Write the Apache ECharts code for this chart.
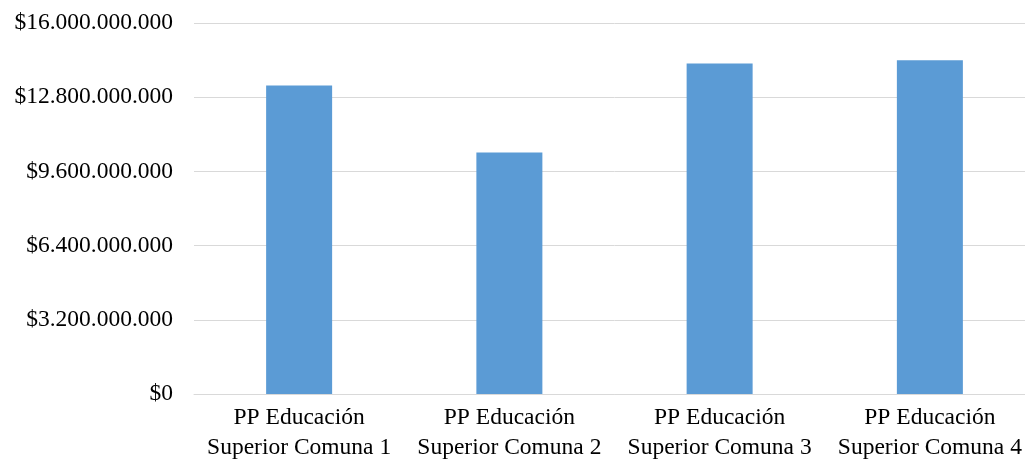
<!DOCTYPE html>
<html>
<head>
<meta charset="utf-8">
<style>
  html, body { margin: 0; padding: 0; background: #ffffff; overflow: hidden; }
  #chart { width: 1035px; height: 463px; }
</style>
<script src="https://cdn.jsdelivr.net/npm/echarts@6/dist/echarts.min.js"></script>
</head>
<body>
<div id="chart"></div>
<script>
// Budget per higher-education programme, by comuna
const categories = [
  'PP Educación\nSuperior Comuna 1',
  'PP Educación\nSuperior Comuna 2',
  'PP Educación\nSuperior Comuna 3',
  'PP Educación\nSuperior Comuna 4'
];
const budgetValues = [13300000000, 10410000000, 14250000000, 14390000000];

const axisMin = 0;
const axisMax = 16000000000;
const axisStep = 3200000000;

function formatPesos(v) {
  return '$' + String(Math.round(v)).replace(/\B(?=(\d{3})+(?!\d))/g, '.');
}

const serif = '"Liberation Serif", "Times New Roman", serif';

const chart = echarts.init(document.getElementById('chart'));
chart.setOption({
  animation: false,
  textStyle: { fontFamily: serif },
  grid: { left: 194, right: 0, top: 23, bottom: 68, containLabel: false },
  xAxis: {
    type: 'category',
    data: categories,
    axisLine: { show: true, lineStyle: { color: '#D9D9D9', width: 1 } },
    axisTick: { show: false },
    axisLabel: {
      color: '#000000',
      fontSize: 23.5,
      lineHeight: 30,
      margin: 9,
      interval: 0,
      fontFamily: serif
    }
  },
  yAxis: {
    type: 'value',
    min: axisMin,
    max: axisMax,
    interval: axisStep,
    axisLine: { show: false },
    axisTick: { show: false },
    splitLine: { lineStyle: { color: '#D9D9D9', width: 1 } },
    axisLabel: {
      color: '#000000',
      fontSize: 23.5,
      margin: 21,
      formatter: formatPesos,
      fontFamily: serif
    }
  },
  series: [{
    type: 'bar',
    data: budgetValues,
    barWidth: 66,
    itemStyle: { color: '#5B9BD5' }
  }]
});
</script>
</body>
</html>
